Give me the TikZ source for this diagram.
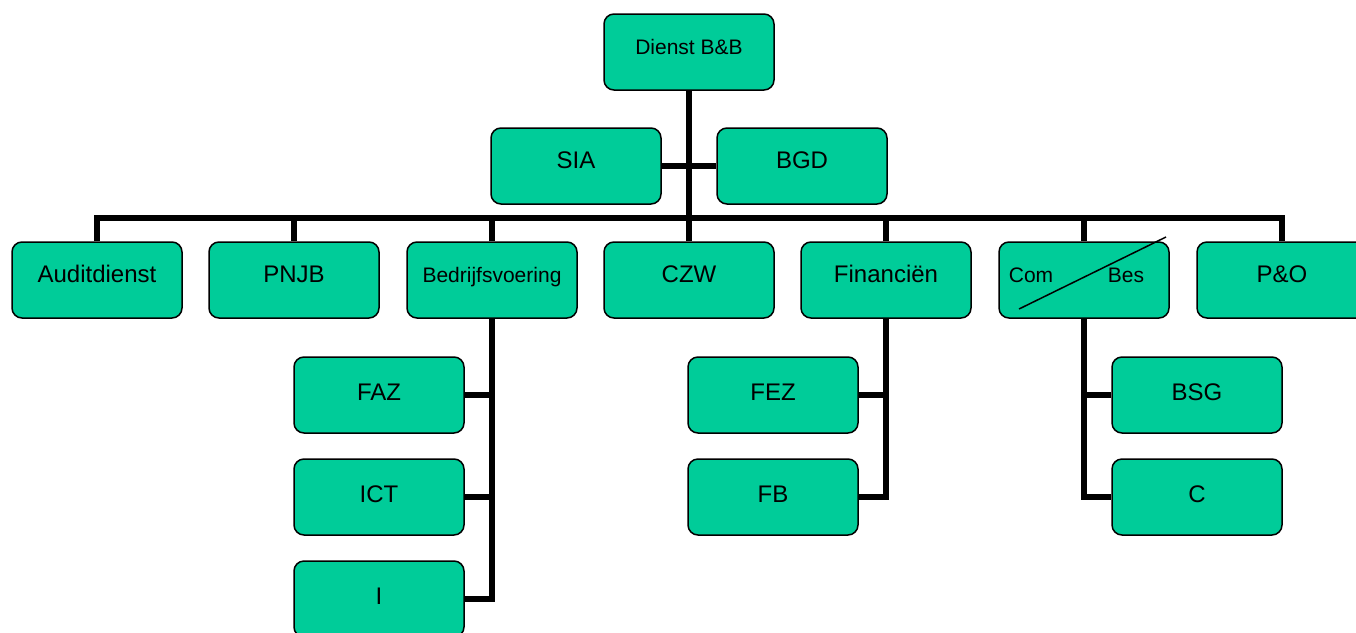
\documentclass[tikz,border=0pt]{standalone}
\usepackage{fontspec}
\setmainfont{Liberation Sans}
\definecolor{boxgreen}{RGB}{0,204,153}
\begin{document}
\begin{tikzpicture}[x=1pt,y=-1pt,
  orgbox/.style={draw=black, line width=1.5pt, fill=boxgreen, rounded corners=10pt,
    minimum width=170pt, minimum height=76pt, inner sep=0pt,
    font=\fontsize{24}{28}\selectfont, text height=18pt, text depth=14pt},
  smalltext/.style={font=\fontsize{21}{25}\selectfont},
  childbox/.style={orgbox, text depth=7pt},
  conn/.style={draw=black, line width=6pt, line join=miter},
  slash/.style={draw=black, line width=1.5pt},
  lbl/.style={inner sep=0pt, font=\fontsize{21}{25}\selectfont, text height=15pt, text depth=0pt}]
\useasboundingbox (0,0) rectangle (1356,632);
\clip (0,0) rectangle (1356,632);
% coordinates
\coordinate (bus) at (0,218);
% top
\node[orgbox, smalltext] (dienst) at (689,52) {Dienst B\&B};
\node[orgbox] (sia) at (576,166) {SIA};
\node[orgbox] (bgd) at (802,166) {BGD};
% row 2
\node[orgbox] (audit) at (97,280) {Auditdienst};
\node[orgbox] (pnjb) at (294,280) {PNJB};
\node[orgbox, smalltext] (bedr) at (492,280) {Bedrijfsvoering};
\node[orgbox] (czw) at (689,280) {CZW};
\node[orgbox] (fin) at (886,280) {Financiën};
\node[orgbox] (combes) at (1084,280) {};
\node[orgbox] (po) at (1282,280) {P\&O};
% children
\node[childbox] (faz) at (379,395) {FAZ};
\node[childbox] (ict) at (379,497) {ICT};
\node[childbox] (i) at (379,599) {I};
\node[childbox] (fez) at (773,395) {FEZ};
\node[childbox] (fb) at (773,497) {FB};
\node[childbox] (bsg) at (1197,395) {BSG};
\node[childbox] (c) at (1197,497) {C};
% Com / Bes
\node[lbl] (com) at (1031,275) {Com};
\node[lbl] (bes) at (1126,275) {Bes};
\coordinate (slashA) at (1019,309);
\coordinate (slashB) at (1166,237);
\draw[slash] (slashA) -- (slashB);
% connectors
\draw[conn] (dienst.south) -- (dienst.south |- bus);
\draw[conn] (sia.east) -- (bgd.west);
\draw[conn] (audit.north) -- (audit.north |- bus) -- (po.north |- bus) -- (po.north);
\draw[conn] (pnjb.north) -- (pnjb.north |- bus);
\draw[conn] (bedr.north) -- (bedr.north |- bus);
\draw[conn] (czw.north) -- (czw.north |- bus);
\draw[conn] (fin.north) -- (fin.north |- bus);
\draw[conn] (combes.north) -- (combes.north |- bus);
% Bedrijfsvoering
\draw[conn] (bedr.south) -- (bedr.south |- i.east) -- (i.east);
\draw[conn] (faz.east) -- (faz.east -| bedr.south);
\draw[conn] (ict.east) -- (ict.east -| bedr.south);
% Financien
\draw[conn] (fin.south) -- (fin.south |- fb.east) -- (fb.east);
\draw[conn] (fez.east) -- (fez.east -| fin.south);
% Com/Bes
\draw[conn] (combes.south) -- (combes.south |- c.west) -- (c.west);
\draw[conn] (bsg.west) -- (bsg.west -| combes.south);
\end{tikzpicture}
\end{document}
